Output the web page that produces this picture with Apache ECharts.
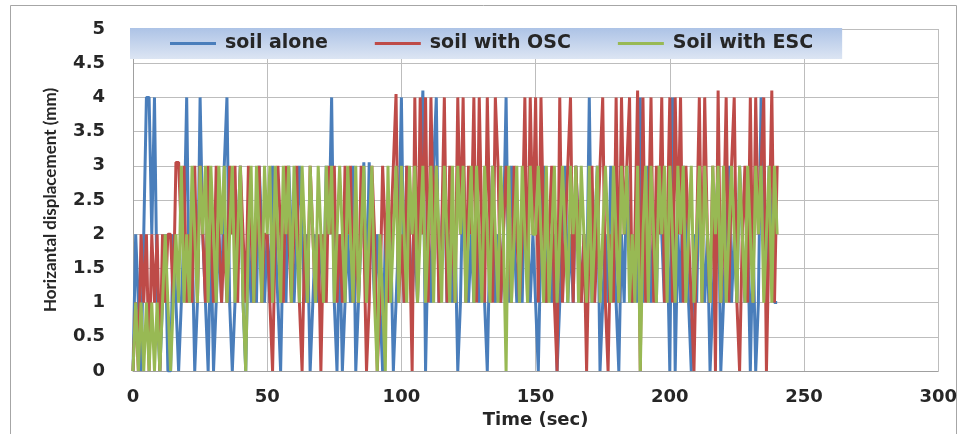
<!DOCTYPE html>
<html>
<head>
<meta charset="utf-8">
<script src="https://cdn.jsdelivr.net/npm/echarts@6/dist/echarts.min.js"></script>
<style>
  html, body { margin: 0; padding: 0; background: #fff; }
  #chart { width: 960px; height: 434px; }
</style>
</head>
<body>
<div id="chart"></div>
<script>
// Horizontal displacement vs time (1 s sampling)
const TIME_STEP = 1

const soilAlone = [
  0, 2, 1, 0, 2, 4, 4, 2, 4, 1,
  0, 1, 2, 0, 0, 2, 1, 0, 1, 2,
  4, 1, 2, 0, 1, 4, 2, 1, 0, 2,
  0, 1, 2, 1, 3, 4, 1, 0, 1, 2,
  3, 1, 0, 2, 1, 2, 1, 3, 2, 1,
  2, 1, 3, 2, 1, 0, 2, 1, 3, 2,
  1, 2, 3, 2, 1, 2, 0, 1, 2, 1,
  2, 1, 3, 2, 4, 1, 0, 2, 0, 1,
  2, 1, 3, 0, 1, 2, 3.05, 1, 3.05, 2,
  1, 2, 1, 0, 2, 1, 2, 0, 1, 2,
  4, 1, 3, 2, 1, 2, 1, 3, 4.1, 0,
  2, 1, 3, 4, 1, 2, 3, 1, 2, 1,
  2, 0, 1, 3, 2, 1, 2, 1, 3, 1,
  2, 1, 0, 2, 3, 1, 2, 1, 2, 4,
  1, 3, 2, 1, 2, 1, 3, 2, 1, 2,
  1, 0, 2, 3, 1, 2, 1, 2, 0, 1,
  2, 3, 1, 2, 1, 3, 2, 1, 2, 1,
  4, 1, 2, 3, 0, 1, 2, 1, 3, 2,
  1, 0, 2, 1, 3, 2, 1, 2, 1, 4,
  1, 2, 3, 1, 2, 1, 3, 2, 1, 2,
  0, 4, 0, 2, 1, 3, 2, 1, 0, 2,
  1, 3, 2, 1, 2, 0, 1, 2, 3, 0,
  1, 2, 3, 1, 2, 1, 3, 2, 1, 2,
  0, 2, 0, 1, 4, 2, 1, 3, 2, 1,
  1
]

const soilOSC = [
  0, 1, 0, 2, 1, 2, 0, 2, 1, 2,
  0, 2, 1, 2, 2, 1, 3.05, 3.05, 2, 3,
  1, 2, 1, 3, 1, 3, 2, 1, 3, 2,
  1, 3, 2, 1, 2, 1, 3, 2, 3, 1,
  3, 2, 1, 3, 2, 1, 2, 3, 1, 2,
  2, 1, 0, 2, 3, 2, 1, 3, 2, 1,
  2, 3, 1, 0, 2, 1, 3, 2, 1, 2,
  0, 2, 1, 3, 2, 3, 1, 2, 1, 3,
  2, 3, 1, 2, 1, 3, 2, 0, 1, 3,
  2, 0, 1, 3, 2, 1, 2, 3, 4.05, 1,
  2, 1, 3, 2, 0, 4, 1, 4, 2, 4,
  1, 4, 2, 3, 1, 2, 4, 1, 3, 2,
  1, 4, 2, 4, 1, 3, 2, 4, 1, 4,
  2, 1, 4, 2, 1, 4, 3, 1, 2, 3,
  2, 1, 3, 2, 1, 2, 4, 1, 4, 2,
  4, 1, 4, 2, 1, 2, 3, 1, 0, 4,
  1, 2, 3, 4, 1, 3, 2, 1, 2, 0,
  2, 3, 1, 2, 3, 4, 1, 0, 2, 1,
  4, 1, 4, 2, 3, 4, 1, 2, 4.1, 0,
  4, 1, 2, 4, 1, 3, 2, 4, 1, 2,
  4, 1, 4, 2, 4, 1, 3, 2, 1, 0,
  2, 4, 1, 4, 2, 1, 3, 0, 4.1, 1,
  2, 4, 1, 3, 4, 1, 0, 2, 3, 1,
  4, 1, 4, 2, 3, 4, 0, 2, 4.1, 1,
  3
]

const soilESC = [
  0, 1, 0, 1, 0, 1, 0, 1, 0, 1,
  0, 1, 2, 1, 0, 1, 2, 1, 3, 1,
  2, 1, 3, 2, 1, 3, 2, 3, 1, 3,
  2, 1, 3, 2, 3, 1, 2, 3, 1, 2,
  3, 1, 0, 2, 3, 1, 3, 2, 1, 3,
  2, 3, 1, 3, 2, 1, 3, 2, 3, 1,
  3, 2, 1, 3, 2, 1, 3, 2, 1, 3,
  2, 1, 3, 2, 3, 1, 2, 3, 2, 1,
  3, 2, 1, 3, 1, 2, 3, 1, 2, 3,
  1, 0, 2, 1, 0, 3, 1, 2, 3, 1,
  3, 2, 1, 3, 2, 3, 1, 2, 3, 1,
  2, 3, 1, 3, 2, 1, 3, 2, 1, 3,
  1, 3, 2, 3, 1, 2, 3, 1, 3, 2,
  1, 3, 2, 1, 3, 2, 1, 3, 2, 0,
  3, 1, 2, 3, 1, 3, 2, 1, 3, 2,
  2, 3, 2, 1, 3, 1, 2, 3, 1, 2,
  3, 2, 1, 3, 2, 3, 1, 3, 2, 1,
  3, 1, 2, 3, 1, 2, 3, 2, 1, 3,
  2, 1, 3, 2, 3, 1, 2, 1, 3, 0,
  2, 3, 1, 3, 2, 1, 3, 2, 3, 1,
  3, 2, 1, 3, 2, 3, 1, 2, 3, 1,
  2, 3, 1, 3, 2, 1, 3, 2, 3, 1,
  3, 1, 2, 3, 2, 1, 3, 2, 1, 3,
  2, 1, 3, 2, 3, 1, 2, 3, 1, 3,
  2
]

const SERIES_NAMES = ['soil alone', 'soil with OSC', 'Soil with ESC']
const COLORS = ['#4A7EBB', '#BE4B48', '#98B954']
const X_TICKS = { min: 0, max: 300, interval: 50 }
const Y_TICKS = { min: 0, max: 5, interval: 0.5 }

// the reference picture is stretched sideways, so horizontal text uses a wide face
const WIDE_FONT = '"DejaVu Sans", sans-serif'
const NARROW_FONT = 'Lato, "Open Sans", sans-serif'
const TEXT = '#262626'
const GRID_LINE = '#bdbdbd'

function toPoints(values) {
  return values.map((v, i) => [i * TIME_STEP, v])
}

const chart = echarts.init(document.getElementById('chart'))
chart.setOption({
  animation: false,
  color: COLORS,
  textStyle: { fontFamily: WIDE_FONT },
  graphic: [{
    type: 'rect',
    silent: true,
    z: 0,
    shape: { x: 10.5, y: 5.5, width: 946, height: 440 },
    style: { fill: 'none', stroke: '#a6a6a6', lineWidth: 1 }
  }],
  legend: {
    data: SERIES_NAMES,
    left: 130,
    top: 28,
    z: 5,
    padding: [6, 29, 6, 40],
    itemGap: 47,
    itemWidth: 46,
    itemHeight: 3,
    icon: 'rect',
    textStyle: { color: TEXT, fontSize: 19, fontWeight: 'bold', fontFamily: WIDE_FONT, padding: [0, 0, 0, 4] },
    backgroundColor: {
      type: 'linear', x: 0, y: 0, x2: 0, y2: 1,
      colorStops: [{ offset: 0, color: '#adc3e6' }, { offset: 1, color: '#dce5f3' }]
    }
  },
  grid: { left: 133, right: 20, top: 29, bottom: 61 },
  xAxis: {
    type: 'value',
    ...X_TICKS,
    name: 'Time (sec)',
    nameLocation: 'middle',
    nameGap: 40,
    nameTextStyle: { fontSize: 18, fontWeight: 'bold', color: TEXT, fontFamily: WIDE_FONT },
    axisLine: { show: true, lineStyle: { color: '#a0a0a0' } },
    axisTick: { show: false },
    axisLabel: { color: TEXT, fontSize: 18, fontWeight: 'bold', margin: 17 },
    splitLine: { show: true, lineStyle: { color: GRID_LINE } }
  },
  yAxis: {
    type: 'value',
    ...Y_TICKS,
    name: 'Horizantal displacement (mm)',
    nameLocation: 'middle',
    nameGap: 74,
    nameTextStyle: { fontSize: 17, fontWeight: 'bold', color: TEXT, fontFamily: NARROW_FONT },
    axisLine: { show: true, lineStyle: { color: '#a0a0a0' } },
    axisTick: { show: false },
    axisLabel: { color: TEXT, fontSize: 18, fontWeight: 'bold', margin: 28 },
    splitLine: { show: true, lineStyle: { color: GRID_LINE } }
  },
  series: [soilAlone, soilOSC, soilESC].map((vals, i) => ({
    name: SERIES_NAMES[i],
    type: 'line',
    data: toPoints(vals),
    showSymbol: false,
    symbol: 'none',
    z: 2 + i,
    lineStyle: { width: 3, color: COLORS[i] },
    itemStyle: { color: COLORS[i] }
  }))
})
</script>
</body>
</html>
